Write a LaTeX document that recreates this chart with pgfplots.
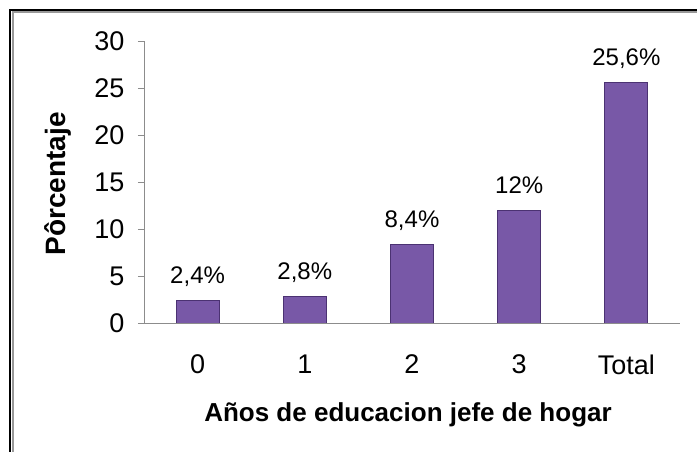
\documentclass[border=0pt]{standalone}
\usepackage{fontspec}
\setmainfont{Liberation Sans}
\usepackage{pgfplots}
\pgfplotsset{compat=1.18}
\definecolor{barfill}{HTML}{7858A7}
\definecolor{baredge}{HTML}{4B3272}
\definecolor{axgray}{HTML}{8C8C8C}
\begin{document}
\begin{tikzpicture}
\useasboundingbox (0,0) rectangle (697pt,452pt);
\fill[white] (0,0) rectangle (697pt,452pt);
\draw[black, line width=2pt] (10pt,0pt) -- (10pt,442pt) -- (697pt,442pt);
\draw[gray!80, line width=2pt] (12.5pt,0pt) -- (12.5pt,439.5pt) -- (697pt,439.5pt);
\begin{axis}[
  at={(144pt,129pt)}, anchor=south west,
  scale only axis, width=536pt, height=282pt,
  font=\fontsize{27}{32}\selectfont,
  /pgf/number format/assume math mode=true,
  xmin=-0.5, xmax=4.5, ymin=0, ymax=30,
  axis x line=bottom, axis y line=left,
  axis line style={axgray, line width=0.8pt, -},
  xtick=data, xticklabels={0,1,2,3,Total},
  major x tick style={draw=none},
  xticklabel style={yshift=-22pt},
  ytick={0,5,...,30},
  tick align=outside, major tick length=6pt,
  ytick style={axgray, line width=0.8pt},
  yticklabel style={xshift=-10pt},
  xlabel={\fontsize{26}{30}\selectfont\bfseries Años de educacion jefe de hogar},
  xlabel style={at={(rel axis cs:0.5,0)}, anchor=base, yshift=-99pt, xshift=-4pt},
  ylabel={\fontsize{28}{32}\selectfont\bfseries Pôrcentaje},
  ylabel style={at={(rel axis cs:0,0.5)}, anchor=center, xshift=-2pt, yshift=86pt},
  ybar, bar width=43pt,
  nodes near coords,
  point meta=explicit symbolic,
  nodes near coords style={anchor=base, yshift=17pt, font=\fontsize{24}{28}\selectfont},
]
\addplot[fill=barfill, draw=baredge, line width=0.8pt] coordinates {
  (0,2.4) [2,4\%]
  (1,2.8) [2,8\%]
  (2,8.4) [8,4\%]
  (3,12) [12\%]
  (4,25.6) [25,6\%]
};
\end{axis}
\end{tikzpicture}
\end{document}
